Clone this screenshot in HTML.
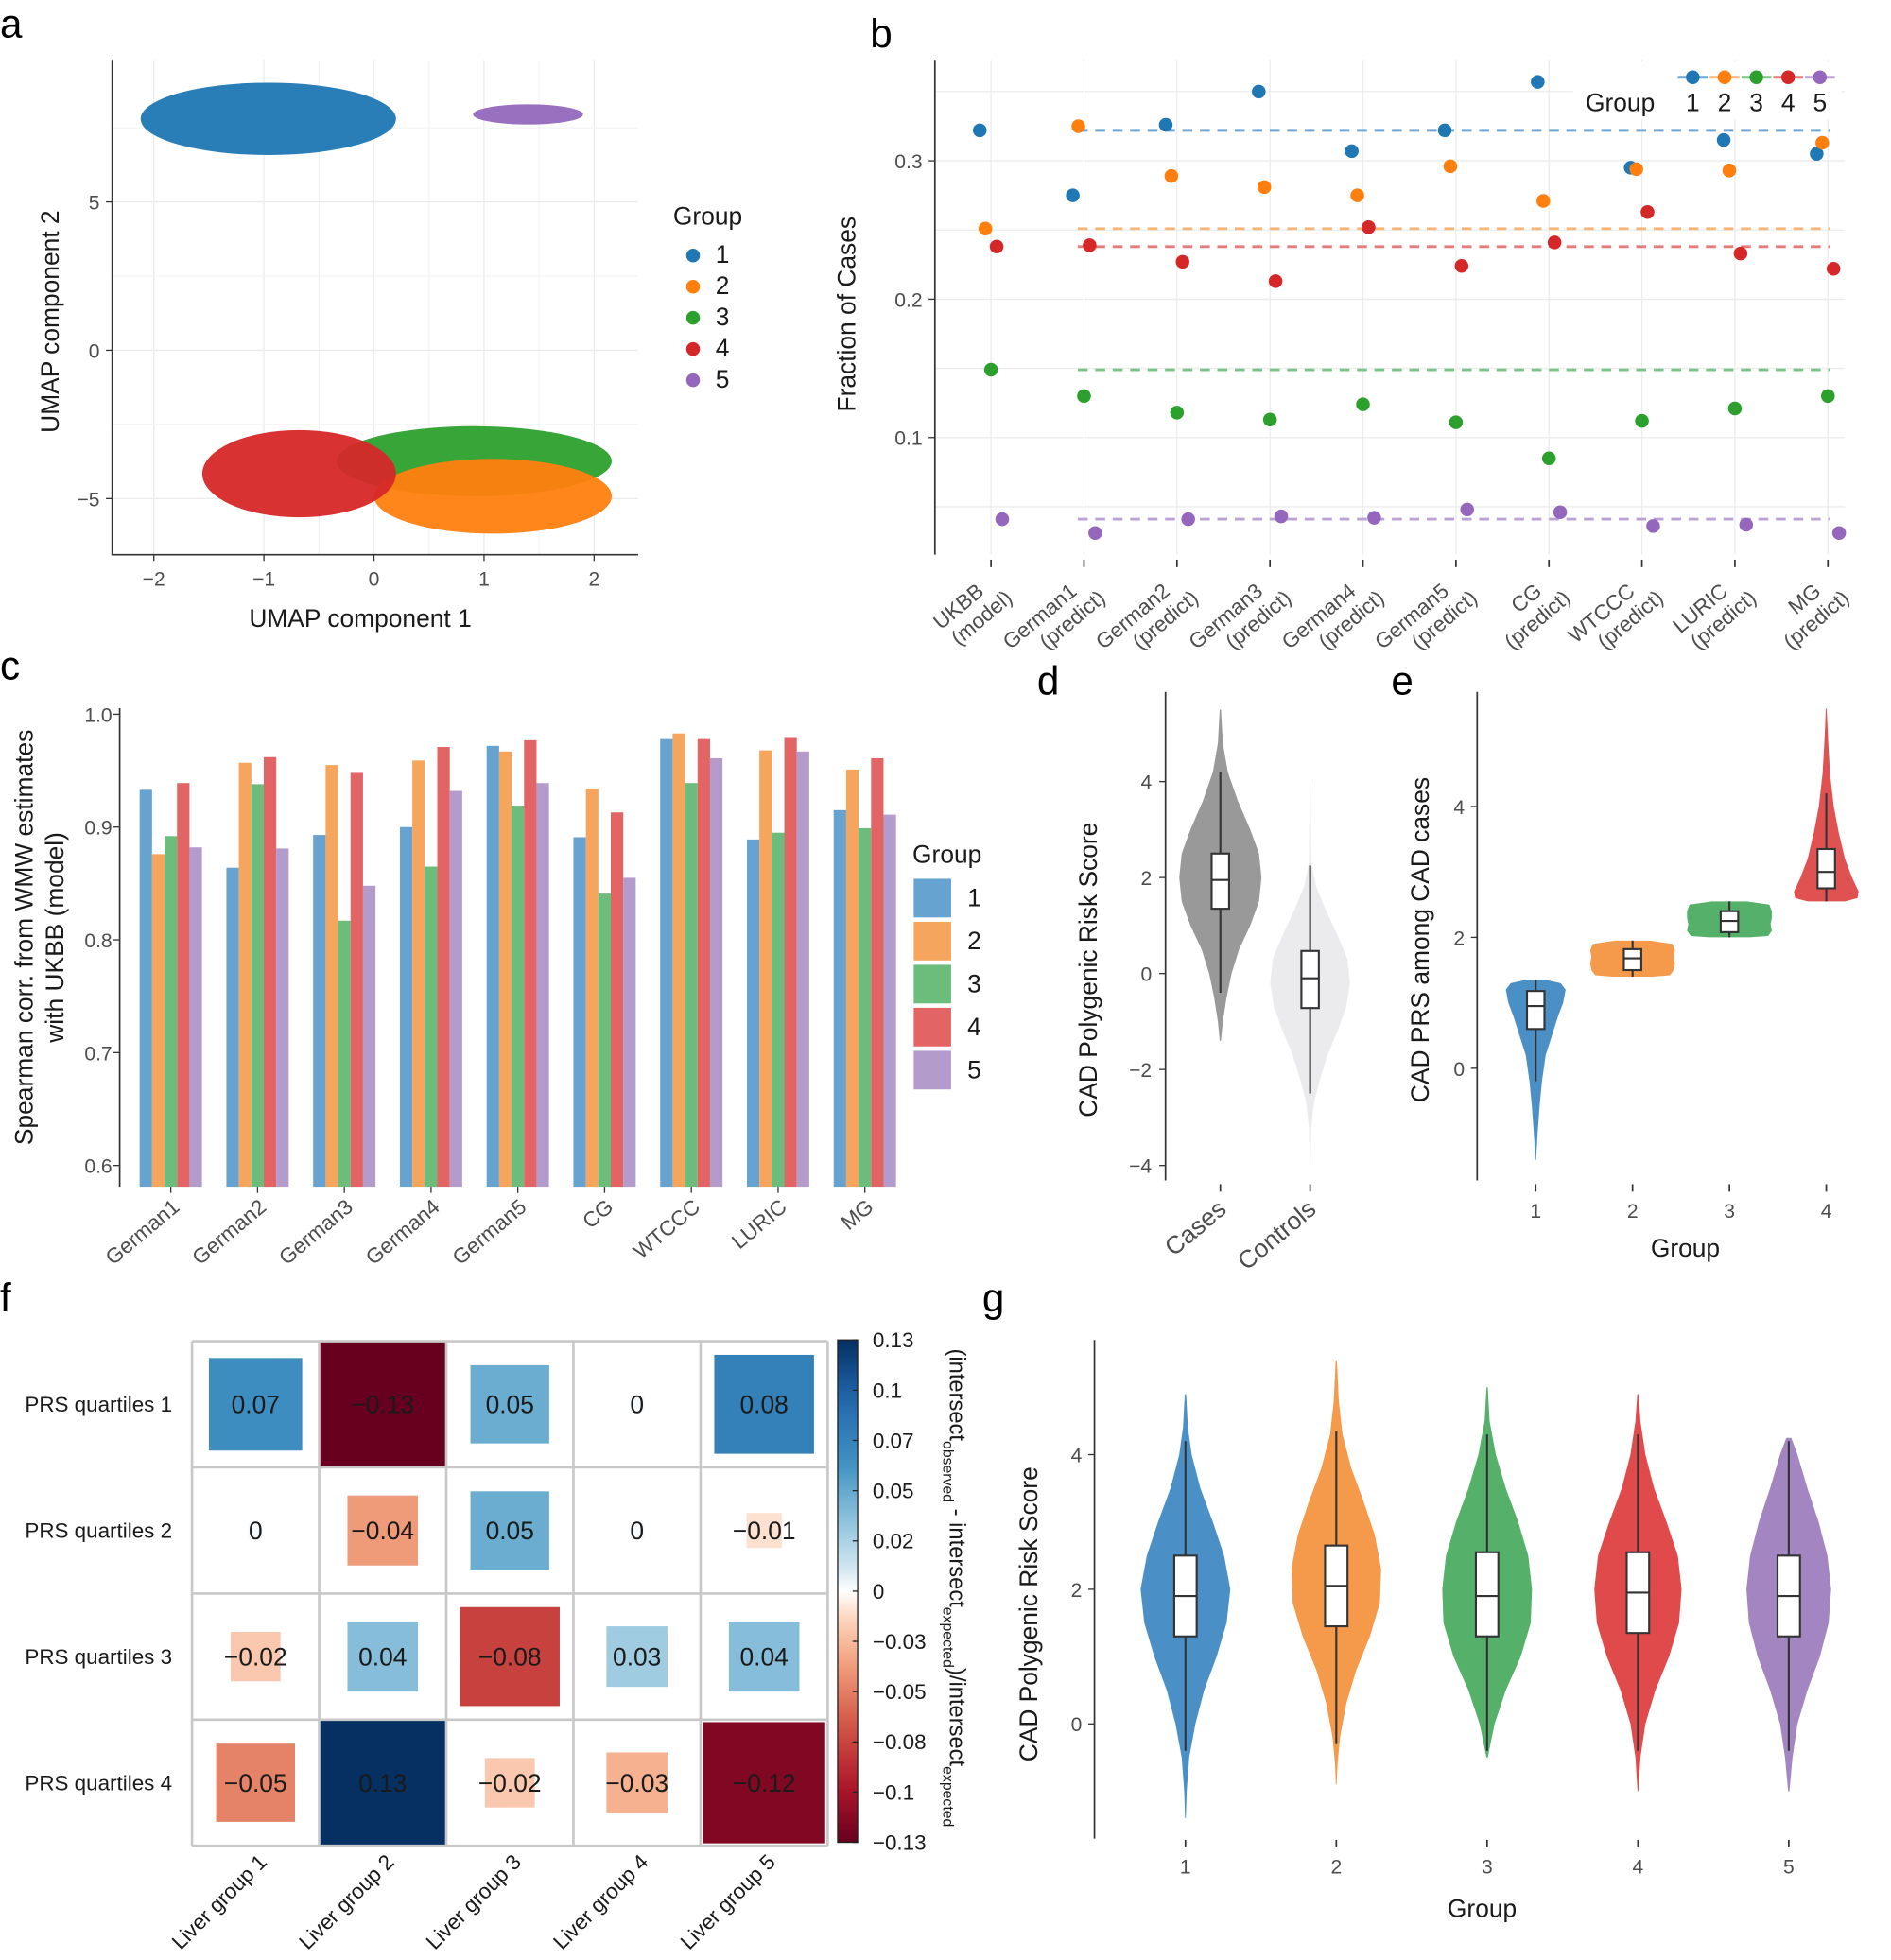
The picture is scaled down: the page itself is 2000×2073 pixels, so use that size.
<!DOCTYPE html>
<html><head><meta charset="utf-8"><style>
body{margin:0;background:#fff}
svg{display:block;font-family:"Liberation Sans",sans-serif}
.tk{fill:#4d4d4d;font-size:16px}
.ttl{fill:#1a1a1a;font-size:20px}
.let{fill:#000;font-size:32px}
</style></head><body>
<svg id="fig" width="2000" height="2073" viewBox="0 0 1517 1572.4" xmlns="http://www.w3.org/2000/svg"></svg>
<script>
// ---------- data ----------
const groupColors=["#1f77b4","#ff7f0e","#2ca02c","#d62728","#9467bd"];
// panel a: cluster centers (UMAP units)
const umapGroup=[1,5,3,2,4];
const umapCx=[-0.96,1.40,0.91,1.08,-0.68];
const umapCy=[7.8,7.95,-3.74,-4.92,-4.16];
const umapRx=[1.16,0.5,1.25,1.08,0.88];
const umapRy=[1.22,0.34,1.18,1.26,1.47];
const umapDrawOrder=[0,1,2,3,4];
const aXTicks=[-2,-1,0,1,2];
const aYTicks=[-5,0,5];
// panel b
const bCats=["UKBB|(model)","German1|(predict)","German2|(predict)","German3|(predict)","German4|(predict)","German5|(predict)","CG|(predict)","WTCCC|(predict)","LURIC|(predict)","MG|(predict)"];
const bG1=[0.322,0.275,0.326,0.350,0.307,0.322,0.357,0.295,0.315,0.305];
const bG2=[0.251,0.325,0.289,0.281,0.275,0.296,0.271,0.294,0.293,0.313];
const bG3=[0.149,0.130,0.118,0.113,0.124,0.111,0.085,0.112,0.121,0.130];
const bG4=[0.238,0.239,0.227,0.213,0.252,0.224,0.241,0.263,0.233,0.222];
const bG5=[0.041,0.031,0.041,0.043,0.042,0.048,0.046,0.036,0.037,0.031];
const bYTicks=[0.1,0.2,0.3];
// panel c
const cCats=["German1","German2","German3","German4","German5","CG","WTCCC","LURIC","MG"];
const cG1=[0.933,0.864,0.893,0.900,0.972,0.891,0.978,0.889,0.915];
const cG2=[0.876,0.957,0.955,0.959,0.967,0.934,0.983,0.968,0.951];
const cG3=[0.892,0.938,0.817,0.865,0.919,0.841,0.939,0.895,0.899];
const cG4=[0.939,0.962,0.948,0.971,0.977,0.913,0.978,0.979,0.961];
const cG5=[0.882,0.881,0.848,0.932,0.939,0.855,0.961,0.967,0.911];
const cYTicks=[0.6,0.7,0.8,0.9,1.0];
const cColors=["#67a3d0","#f6a55c","#6cbc7c","#e36464","#b39ccc"];
// panel d
const dCats=["Cases","Controls"];
const dProfY=[[5.5,4.8,4.2,3.6,3.0,2.5,2.0,1.5,1.0,0.5,0,-0.5,-1.0,-1.4],[4.0,2.3,1.8,1.3,0.8,0.3,-0.2,-0.7,-1.2,-1.7,-2.2,-2.7,-3.2,-4.0]];
const dProfW=[[0.5,2,6,14,24,31,33,31,24,15,9,5,2,0.5],[0.3,1,5,13,22,30,32,29,22,14,8,3,1,0.3]];
const dBox=[[4.2,2.5,1.95,1.35,-0.4],[2.25,0.47,-0.1,-0.72,-2.5]];
const dColors=["#999999","#ebebed"];
const dYTicks=[-4,-2,0,2,4];
// panel e
const eCats=["1","2","3","4"];
const eProfY=[[1.35,1.3,1.2,1.0,0.8,0.5,0.2,-0.2,-0.6,-1.0,-1.4],[1.95,1.9,1.8,1.7,1.6,1.5,1.42,1.4],[2.55,2.5,2.4,2.3,2.2,2.1,2.02,2.0],[5.5,5.0,4.5,4.0,3.6,3.2,2.9,2.7,2.6,2.55]];
const eProfW=[[8,20,24,22,18,13,8,5,3,1.5,0.3],[14,32,34,33,34,33,30,16],[14,32,34,34,33,34,31,16],[0.3,1.5,3,6,10,15,21,26,25,15]];
const eBox=[[1.35,1.18,0.95,0.6,-0.2],[1.95,1.82,1.68,1.5,1.4],[2.55,2.4,2.25,2.08,2.0],[4.2,3.35,3.0,2.75,2.55]];
const eColors=["#4a8fc6","#f5994a","#55b06a","#e05252"];
const eYTicks=[0,2,4];
// panel f
const fRows=["PRS quartiles 1","PRS quartiles 2","PRS quartiles 3","PRS quartiles 4"];
const fCols=["Liver group 1","Liver group 2","Liver group 3","Liver group 4","Liver group 5"];
const fRow1=[0.07,-0.13,0.05,0,0.08];
const fRow2=[0,-0.04,0.05,0,-0.01];
const fRow3=[-0.02,0.04,-0.08,0.03,0.04];
const fRow4=[-0.05,0.13,-0.02,-0.03,-0.12];
const fLabels=["0.07","−0.13","0.05","0","0.08","0","−0.04","0.05","0","−0.01","−0.02","0.04","−0.08","0.03","0.04","−0.05","0.13","−0.02","−0.03","−0.12"];
const fBarTicks=["0.13","0.1","0.07","0.05","0.02","0","−0.03","−0.05","−0.08","−0.1","−0.13"];
// panel g
const gCats=["1","2","3","4","5"];
const gProfY=[[4.9,4.4,4.0,3.5,3.0,2.5,2.0,1.5,1.0,0.5,0,-0.5,-1.0,-1.4],[5.4,4.8,4.3,3.8,3.3,2.8,2.3,1.8,1.3,0.8,0.3,-0.2,-0.6,-0.9],[5.0,4.5,4.0,3.5,3.0,2.5,2.0,1.5,1.0,0.5,0,-0.5],[4.9,4.5,4.0,3.5,3.0,2.5,2.0,1.5,1.0,0.5,0,-0.5,-1.0],[4.25,4.0,3.5,3.0,2.5,2.0,1.5,1.0,0.5,0,-0.5,-1.0]];
const gProfW=[[0.5,2,5,12,22,31,36,33,25,15,8,3,1,0.3],[0.5,2,5,12,22,31,36,35,27,16,8,3,1,0.3],[0.5,2,7,15,25,33,36,35,27,15,6,0.5],[0.5,2,6,13,23,32,35,33,25,14,6,2,0.3],[2,7,15,24,31,34,32,25,15,7,3,0.5]];
const gBox=[[4.2,2.5,1.9,1.3,-0.4],[4.35,2.65,2.05,1.45,-0.3],[4.3,2.55,1.9,1.3,-0.4],[4.3,2.55,1.95,1.35,-0.4],[4.2,2.5,1.9,1.3,-0.4]];
const gColors=["#4a8fc6","#f5994a","#55b06a","#e04a4a","#a385c2"];
const gYTicks=[0,2,4];

// ---------- helpers ----------
const NS="http://www.w3.org/2000/svg";
const svg=document.getElementById('fig');
function mk(tag,attrs,parent){const e=document.createElementNS(NS,tag);for(const k in attrs)e.setAttribute(k,attrs[k]);(parent||svg).appendChild(e);return e;}
function txt(s,x,y,cls,extra,parent){const e=mk('text',Object.assign({x:x,y:y,class:cls},extra||{}),parent);e.textContent=s;return e;}
function lin(d0,d1,r0,r1){return v=>r0+(v-d0)*(r1-r0)/(d1-d0);}
function violinPath(cx,ys,ws,yS){let p='';for(let i=0;i<ys.length;i++)p+=(i?'L':'M')+(cx+ws[i])+','+yS(ys[i]);for(let i=ys.length-1;i>=0;i--)p+='L'+(cx-ws[i])+','+yS(ys[i]);return p+'Z';}
function boxplot(cx,b,yS,hw,g){
  let l=mk('line',{x1:cx,x2:cx,y1:yS(b[0]),y2:yS(b[4]),stroke:'#333','stroke-width':1.6},g);
  
  let r=mk('rect',{x:cx-hw,y:yS(b[1]),width:2*hw,height:yS(b[3])-yS(b[1]),fill:'#fff',stroke:'#333','stroke-width':1.6},g);
  
  let m=mk('line',{x1:cx-hw,x2:cx+hw,y1:yS(b[2]),y2:yS(b[2]),stroke:'#333','stroke-width':1.6},g);
  
}
function letter(s,x,y){const t=txt(s,x,y,'let');}

// ---------- panel a ----------
(function(){
  const g=mk('g',{});
  const xS=lin(0,1,300,388.3), yS=lin(0,5,281,162);
  const L=90,R=512,T=48,B=445;
  aXTicks.forEach(v=>{let l=mk('line',{x1:xS(v),x2:xS(v),y1:T,y2:B,stroke:'#ebebeb'},g);
    let t=txt(String(v).replace('-','−'),xS(v),470,'tk',{'text-anchor':'middle'},g);
    let tk=mk('line',{x1:xS(v),x2:xS(v),y1:B,y2:B+5,stroke:'#333'},g);});
  [-0.5,0.5,1.5].forEach(v=>{let l=mk('line',{x1:xS(v),x2:xS(v),y1:T,y2:B,stroke:'#f3f3f3'},g);});
  aYTicks.forEach(v=>{let l=mk('line',{x1:L,x2:R,y1:yS(v),y2:yS(v),stroke:'#ebebeb'},g);
    let t=txt(String(v).replace('-','−'),80,yS(v)+6,'tk',{'text-anchor':'end'},g);
    let tk=mk('line',{x1:L-5,x2:L,y1:yS(v),y2:yS(v),stroke:'#333'},g);});
  [-2.5,2.5,7.5].forEach(v=>{let l=mk('line',{x1:L,x2:R,y1:yS(v),y2:yS(v),stroke:'#f3f3f3'},g);});
  umapDrawOrder.forEach(i=>{
    const rx=(xS(umapRx[i])-xS(0)), ry=(yS(0)-yS(umapRy[i]));
    let e=mk('ellipse',{cx:xS(umapCx[i]),cy:yS(umapCy[i]),rx:rx,ry:ry,fill:groupColors[umapGroup[i]-1],opacity:0.95},g);
    
  });
  let ax=mk('path',{d:`M${L},${T}V${B}H${R}`,fill:'none',stroke:'#333','stroke-width':1.3},g);
  let xt=txt('UMAP component 1',289,503,'ttl',{'text-anchor':'middle'},g);
  let yt=txt('UMAP component 2',0,0,'ttl',{'text-anchor':'middle',transform:'translate(47,258) rotate(-90)'},g);
  let lt=txt('Group',540,180,'ttl',{},g);
  groupColors.forEach((c,i)=>{let d=mk('circle',{cx:556,cy:205+i*25,r:5.5,fill:c},g);
    let t=txt(String(i+1),574,211+i*25,'ttl',{},g);});
})();
letter('a',0,30);

// ---------- panel b ----------
(function(){
  const g=mk('g',{});
  const yS=lin(0.3,0.2,129,240);const xS=i=>795+i*74.6;
  const L=750,R=1480,T=48,B=445;
  [0.05,0.1,0.15,0.2,0.25,0.3,0.35].forEach(v=>{let l=mk('line',{x1:L,x2:R,y1:yS(v),y2:yS(v),stroke:'#ececec'},g);});
  bCats.forEach((c,i)=>{let l=mk('line',{x1:xS(i),x2:xS(i),y1:T,y2:B,stroke:'#ececec'},g);
    let tk=mk('line',{x1:xS(i),x2:xS(i),y1:B+4,y2:B+10,stroke:'#333','stroke-width':1.3},g);
    const parts=c.split('|');
    let t=mk('text',{class:'tk',transform:`translate(${xS(i)+6},${B+22}) rotate(-40)`,'text-anchor':'end',style:'font-size:17px'},g);
    
    let s1=mk('tspan',{x:-14,y:0},t);s1.textContent=parts[0];let s2=mk('tspan',{x:0,y:19},t);s2.textContent=parts[1];});
  bYTicks.forEach(v=>{let t=txt(String(v),740,yS(v)+6,'tk',{'text-anchor':'end'},g);
    let tk=mk('line',{x1:L-5,x2:L,y1:yS(v),y2:yS(v),stroke:'#333'},g);});
  const series=[bG1,bG2,bG3,bG4,bG5];const off=[-9,-4.5,0,4.5,9];
  const dashC=["#6fa6d3","#f6b67a","#7cc38a","#e77a7a","#bba3d6"];
  series.forEach((s,k)=>{let l=mk('line',{x1:xS(1)-5,x2:xS(9)+2,y1:yS(s[0]),y2:yS(s[0]),stroke:dashC[k],'stroke-width':2.2,'stroke-dasharray':'8 6'},g);
    });
  series.forEach((s,k)=>s.forEach((v,i)=>{let p=mk('circle',{cx:xS(i)+off[k],cy:yS(v),r:5.5,fill:groupColors[k]},g);
    }));
  let ax=mk('line',{x1:L,x2:L,y1:T,y2:B,stroke:'#333','stroke-width':1.3},g);
  let yt=txt('Fraction of Cases',0,0,'ttl',{'text-anchor':'middle',transform:'translate(686,252) rotate(-90)'},g);
  let lb=mk('rect',{x:1262,y:50,width:215,height:46,fill:'#fff'},g);
  let lt=txt('Group',1272,89,'ttl',{},g);
  groupColors.forEach((c,i)=>{const x=1358+i*25.5;
    let ln=mk('line',{x1:x-12,x2:x+12,y1:62,y2:62,stroke:dashC[i],'stroke-width':2.2},g);
    let d=mk('circle',{cx:x,cy:62,r:5.5,fill:c},g);
    let t=txt(String(i+1),x,89,'ttl',{'text-anchor':'middle'},g);});
})();
letter('b',698,38);

// ---------- panel c ----------
(function(){
  const g=mk('g',{});
  const yS=lin(0.6,1.0,935,573);const xS=i=>137+i*69.6;const base=952,bw=10;
  cYTicks.forEach(v=>{let t=txt(v.toFixed(1),90,yS(v)+6,'tk',{'text-anchor':'end'},g);
    let tk=mk('line',{x1:91,x2:96,y1:yS(v),y2:yS(v),stroke:'#333'},g);});
  const series=[cG1,cG2,cG3,cG4,cG5];
  series.forEach((s,k)=>s.forEach((v,i)=>{const x=xS(i)+(k-2)*bw-bw/2;
    let r=mk('rect',{x:x,y:yS(v),width:bw,height:base-yS(v),fill:cColors[k]},g);}));
  cCats.forEach((c,i)=>{let tk=mk('line',{x1:xS(i),x2:xS(i),y1:base,y2:base+5,stroke:'#333'},g);
    let t=txt(c,0,0,'tk',{'text-anchor':'end',transform:`translate(${xS(i)+8},${base+18}) rotate(-40)`,style:'font-size:17px'},g);});
  let ax=mk('line',{x1:96,x2:96,y1:568,y2:base,stroke:'#333','stroke-width':1.3},g);
  let yt=mk('text',{class:'ttl','text-anchor':'middle',transform:'translate(26,752) rotate(-90)'},g);
  let s1=mk('tspan',{x:0,y:0},yt);s1.textContent='Spearman corr. from WMW estimates';let s2=mk('tspan',{x:0,y:25},yt);s2.textContent='with UKBB (model)';
  let lt=txt('Group',732,692,'ttl',{},g);
  cColors.forEach((c,i)=>{let r=mk('rect',{x:733,y:705+i*34.5,width:30,height:31,fill:c},g);
    let t=txt(String(i+1),776,727+i*34.5,'ttl',{},g);});
})();
letter('c',0,545);

// ---------- panel d ----------
(function(){
  const g=mk('g',{});
  const yS=lin(0,2,781,704);const xS=i=>979+i*72;
  dYTicks.forEach(v=>{let t=txt(String(v).replace('-','−'),924,yS(v)+6,'tk',{'text-anchor':'end'},g);
    let tk=mk('line',{x1:930,x2:935,y1:yS(v),y2:yS(v),stroke:'#333'},g);});
  dCats.forEach((c,i)=>{let p=mk('path',{d:violinPath(xS(i),dProfY[i],dProfW[i],yS),fill:dColors[i]},g);
    boxplot(xS(i),dBox[i],yS,7,g);
    let tk=mk('line',{x1:xS(i),x2:xS(i),y1:950,y2:956,stroke:'#333','stroke-width':1.3},g);
    let t=txt(c,0,0,'ttl',{'text-anchor':'end',transform:`translate(${xS(i)+6},${972}) rotate(-40)`,style:'fill:#4d4d4d'},g);});
  let ax=mk('line',{x1:935,x2:935,y1:555,y2:947,stroke:'#333','stroke-width':1.3},g);
  let yt=txt('CAD Polygenic Risk Score',0,0,'ttl',{'text-anchor':'middle',transform:'translate(880,778) rotate(-90)'},g);
})();
letter('d',832,557);

// ---------- panel e ----------
(function(){
  const g=mk('g',{});
  const yS=lin(0,2,857,752);const xS=i=>1232+i*77.7;
  eYTicks.forEach(v=>{let t=txt(String(v),1175,yS(v)+6,'tk',{'text-anchor':'end'},g);
    let tk=mk('line',{x1:1180,x2:1185,y1:yS(v),y2:yS(v),stroke:'#333'},g);});
  eCats.forEach((c,i)=>{let p=mk('path',{d:violinPath(xS(i),eProfY[i],eProfW[i],yS),fill:eColors[i]},g);
    boxplot(xS(i),eBox[i],yS,7,g);
    let tk=mk('line',{x1:xS(i),x2:xS(i),y1:950,y2:956,stroke:'#333','stroke-width':1.3},g);
    let t=txt(c,xS(i),977,'tk',{'text-anchor':'middle'},g);});
  let ax=mk('line',{x1:1185,x2:1185,y1:555,y2:947,stroke:'#333','stroke-width':1.3},g);
  let xt=txt('Group',1352,1008,'ttl',{'text-anchor':'middle'},g);
  let yt=txt('CAD PRS among CAD cases',0,0,'ttl',{'text-anchor':'middle',transform:'translate(1146,754) rotate(-90)'},g);
})();
letter('e',1116,557);

// ---------- panel f ----------
(function(){
  const g=mk('g',{});
  const L=154,T=1076,cw=102,ch=101.2;
  const stops=[[-0.13,[103,0,31]],[-0.1,[178,24,43]],[-0.065,[214,96,77]],[-0.035,[244,165,130]],[-0.012,[253,219,199]],[0,[255,255,255]],[0.012,[209,229,240]],[0.035,[146,197,222]],[0.065,[67,147,195]],[0.1,[33,102,172]],[0.13,[5,48,97]]];
  function col(v){for(let i=0;i<stops.length-1;i++){if(v<=stops[i+1][0]){const t=(v-stops[i][0])/(stops[i+1][0]-stops[i][0]);const a=stops[i][1],b=stops[i+1][1];return `rgb(${a.map((x,j)=>Math.round(x+(b[j]-x)*t)).join(',')})`;}}return 'rgb(5,48,97)';}
  const rows=[fRow1,fRow2,fRow3,fRow4];
  rows.forEach((r,ri)=>r.forEach((v,ci)=>{
    const cx=L+ci*cw+cw/2,cy=T+ri*ch+ch/2;
    const s=Math.max(0.12,Math.sqrt(Math.abs(v)/0.13));
    let rc=mk('rect',{x:cx-cw*s/2,y:cy-ch*s/2,width:cw*s,height:ch*s,fill:v===0?'#f7fafd':col(v)},g);
    
    let t=txt(fLabels[ri*5+ci],cx,cy+7,'ttl',{'text-anchor':'middle'},g);}));
  for(let i=0;i<=5;i++){let l=mk('line',{x1:L+i*cw,x2:L+i*cw,y1:T,y2:T+4*ch,stroke:'#c8c8c8','stroke-width':2},g);}
  for(let i=0;i<=4;i++){let l=mk('line',{x1:L,x2:L+5*cw,y1:T+i*ch,y2:T+i*ch,stroke:'#c8c8c8','stroke-width':2},g);}
  fRows.forEach((r,i)=>{let t=txt(r,20,T+i*ch+ch/2+6,'tk',{style:'fill:#1a1a1a;font-size:17px'},g);});
  fCols.forEach((c,i)=>{let t=txt(c,0,0,'tk',{'text-anchor':'end',transform:`translate(${L+i*cw+cw/2+10},${T+4*ch+14}) rotate(-45)`,style:'fill:#1a1a1a;font-size:17px'},g);});
  const defs=mk('defs',{},g);const lg=mk('linearGradient',{id:'cb',x1:0,y1:0,x2:0,y2:1},defs);
  for(let i=0;i<=20;i++){const v=0.13-i*0.013;mk('stop',{offset:(i/20),'stop-color':col(v)},lg);}
  let cb=mk('rect',{x:672,y:1075,width:16,height:403,fill:'url(#cb)',stroke:'#222','stroke-width':1},g);
  fBarTicks.forEach((s,i)=>{const y=1075+i*40.3;
    let tk=mk('line',{x1:684,x2:688,y1:y,y2:y,stroke:'#222'},g);
    let t=txt(s,700,y+6,'tk',{style:'fill:#1a1a1a;font-size:17px'},g);});
  let ct=mk('text',{class:'ttl',transform:'translate(762,1082) rotate(90)',style:'font-size:18px'},g);
  const parts=[['(intersect',''],['observed','s'],[' - intersect',''],['expected','s'],[')/intersect',''],['expected','s']];
  parts.forEach(p=>{const ts=mk('tspan',p[1]?{style:'font-size:12px','baseline-shift':'-5'}:{},ct);ts.textContent=p[0];});
})();
letter('f',0,1052);

// ---------- panel g ----------
(function(){
  const g=mk('g',{});
  const yS=lin(0,2,1383,1275);const xS=i=>951+i*121;
  gYTicks.forEach(v=>{let t=txt(String(v),868,yS(v)+6,'tk',{'text-anchor':'end'},g);
    let tk=mk('line',{x1:873,x2:878,y1:yS(v),y2:yS(v),stroke:'#333'},g);});
  gCats.forEach((c,i)=>{let p=mk('path',{d:violinPath(xS(i),gProfY[i],gProfW[i],yS),fill:gColors[i]},g);
    boxplot(xS(i),gBox[i],yS,9,g);
    let tk=mk('line',{x1:xS(i),x2:xS(i),y1:1476,y2:1482,stroke:'#333','stroke-width':1.3},g);
    let t=txt(c,xS(i),1503,'tk',{'text-anchor':'middle'},g);});
  let ax=mk('line',{x1:878,x2:878,y1:1075,y2:1475,stroke:'#333','stroke-width':1.3},g);
  let xt=txt('Group',1189,1538,'ttl',{'text-anchor':'middle'},g);
  let yt=txt('CAD Polygenic Risk Score',0,0,'ttl',{'text-anchor':'middle',transform:'translate(832,1295) rotate(-90)'},g);
})();
letter('g',788,1052);
</script>
</body></html>
